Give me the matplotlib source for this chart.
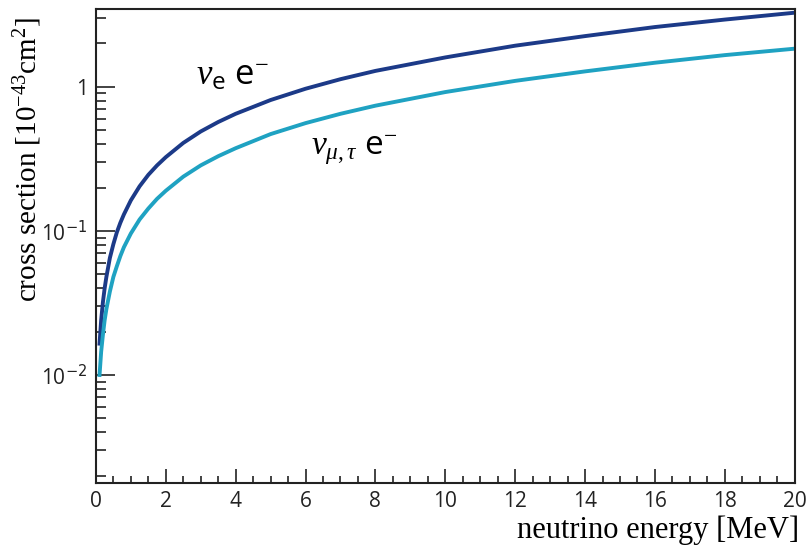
import matplotlib
matplotlib.use("Agg")
import matplotlib.pyplot as plt
from matplotlib.ticker import MultipleLocator, FixedLocator, NullFormatter

# values (cross section in 10^-43 cm^2)
energy = [0.1, 0.15, 0.2, 0.25, 0.3, 0.4, 0.5, 0.6, 0.7, 0.8, 1.0, 1.25, 1.5,
          1.75, 2.0, 2.5, 3.0, 3.5, 4.0, 5.0, 6.0, 7.0, 8.0, 10.0, 12.0, 14.0,
          16.0, 18.0, 20.0]
sigma_e = [0.016, 0.024, 0.032, 0.040, 0.048, 0.065, 0.081, 0.098, 0.114,
           0.130, 0.163, 0.204, 0.245, 0.285, 0.325, 0.408, 0.49, 0.57, 0.65,
           0.81, 0.97, 1.13, 1.29, 1.6, 1.93, 2.25, 2.6, 2.93, 3.27]
sigma_mutau = [0.0097, 0.0145, 0.019, 0.024, 0.0287, 0.038, 0.048, 0.057,
               0.067, 0.077, 0.096, 0.120, 0.143, 0.167, 0.19, 0.238, 0.285,
               0.33, 0.375, 0.47, 0.56, 0.65, 0.74, 0.92, 1.1, 1.28, 1.47,
               1.66, 1.84]

ytick_vals = [1e-2, 1e-1, 1]
ytick_labels = ["10$^{-2}$", "10$^{-1}$", "1"]
xtick_vals = [0, 2, 4, 6, 8, 10, 12, 14, 16, 18, 20]

plt.rcParams["font.family"] = "Liberation Serif"
plt.rcParams["mathtext.fontset"] = "custom"
plt.rcParams["mathtext.rm"] = "Liberation Serif"
plt.rcParams["mathtext.it"] = "Liberation Serif:italic"
plt.rcParams["mathtext.sf"] = "Open Sans"

fig = plt.figure(figsize=(8.06, 5.51), dpi=100)
ax = fig.add_axes([0.119, 0.1234, 0.867, 0.8603])

ax.plot(energy, sigma_e, color="#1c3a88", lw=2.8, solid_capstyle="butt")
ax.plot(energy, sigma_mutau, color="#1fa2c2", lw=2.8, solid_capstyle="butt")

ax.set_yscale("log")
ax.set_xlim(0, 20)
ax.set_ylim(1.78e-3, 3.47)

ax.set_yticks(ytick_vals)
ax.set_yticklabels(ytick_labels)
ax.yaxis.set_minor_locator(FixedLocator(
    [m * 10.0 ** d for d in (-3, -2, -1, 0) for m in range(2, 10)]))
ax.yaxis.set_minor_formatter(NullFormatter())
ax.set_xticks(xtick_vals)
ax.xaxis.set_minor_locator(MultipleLocator(0.5))

ax.tick_params(axis="x", which="major", direction="in", length=10, width=1.2)
ax.tick_params(axis="x", which="minor", direction="in", length=5, width=1.2)
ax.tick_params(axis="y", which="major", direction="in", length=14, width=1.2)
ax.tick_params(axis="y", which="minor", direction="in", length=7, width=1.2)
ax.tick_params(axis="both", which="both", top=False, right=False,
               colors="#222222", labelsize=15, pad=6)
for lab in ax.get_xticklabels() + ax.get_yticklabels():
    lab.set_family("Open Sans")
    lab.set_math_fontfamily("dejavusans")

for sp in ax.spines.values():
    sp.set_linewidth(1.5)
    sp.set_color("#222222")

ax.set_ylabel("cross section [10$^{-43}$cm$^{2}$]", fontsize=21, va="center")
ax.yaxis.set_label_coords(-0.097, 0.682)
ax.set_xlabel("neutrino energy [MeV]", fontsize=22, ha="right", va="center")
ax.xaxis.set_label_coords(1.007, -0.099)

ax.text(3.9, 1.2, r"$\nu_{\mathsf{e}}$ e$^{-}$", fontsize=25, family="Open Sans",
        ha="center", va="center")
ax.text(7.4, 0.365, r"$\nu_{\mu,\tau}$ e$^{-}$", fontsize=24, family="Open Sans",
        ha="center", va="center")

fig.savefig("out.png", dpi=100)
